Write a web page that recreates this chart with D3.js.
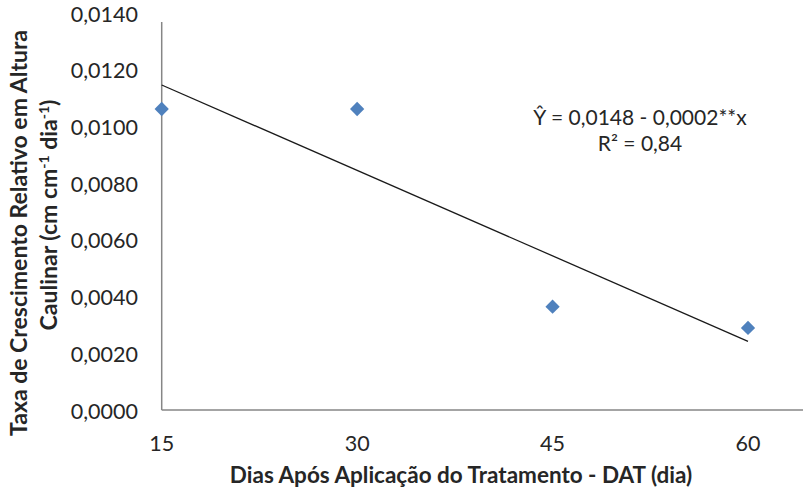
<!DOCTYPE html>
<html>
<head>
<meta charset="utf-8">
<script src="https://cdn.jsdelivr.net/npm/d3@7"></script>
<style>
  body { margin: 0; background: #fff; }
  text { font-family: Lato, "Open Sans", sans-serif; fill: #262626; }
</style>
</head>
<body>
<div id="chart"></div>
<script>
// days after treatment
var days = [15, 30, 45, 60];
// relative growth rate
var rates = [0.01065, 0.01065, 0.00368, 0.00293];
var yTicks = [0, 0.002, 0.004, 0.006, 0.008, 0.010, 0.012, 0.014];
var xTicks = [15, 30, 45, 60];
var eqLines = ["Ŷ = 0,0148 - 0,0002**x", "R² = 0,84"];

var width = 803, height = 490;

var svg = d3.select("#chart").append("svg")
  .attr("width", width)
  .attr("height", height);

var x = d3.scaleLinear().domain([15, 60]).range([161.7, 748]);
var y = d3.scaleLinear().domain([0, 0.014]).range([411, 14]);

var fmt = function(d) { return d3.format(".4f")(d).replace(".", ","); };

// axes lines
svg.append("line")
  .attr("x1", x(15)).attr("x2", 803)
  .attr("y1", 410).attr("y2", 410)
  .attr("stroke", "#868686").attr("stroke-width", 1.5);
svg.append("line")
  .attr("x1", x(15)).attr("x2", x(15))
  .attr("y1", 410).attr("y2", 22)
  .attr("stroke", "#868686").attr("stroke-width", 1.5);

// y tick labels
svg.selectAll(".ylab")
  .data(yTicks)
  .enter()
  .append("text")
  .attr("class", "ylab")
  .attr("x", 138)
  .attr("y", function(d) { return y(d); })
  .attr("dy", "0.35em")
  .attr("text-anchor", "end")
  .style("font-size", "21.5px")
  .text(fmt);

// x tick labels
svg.selectAll(".xlab")
  .data(xTicks)
  .enter()
  .append("text")
  .attr("class", "xlab")
  .attr("x", function(d) { return x(d); })
  .attr("y", 443)
  .attr("dy", "0.35em")
  .attr("text-anchor", "middle")
  .style("font-size", "21.5px")
  .text(function(d) { return d; });

// least squares trend line
var mx = d3.mean(days), my = d3.mean(rates);
var sxy = d3.sum(days, function(d, i) { return (d - mx) * (rates[i] - my); });
var sxx = d3.sum(days, function(d) { return (d - mx) * (d - mx); });
var b = sxy / sxx, a = my - b * mx;

svg.append("line")
  .attr("x1", x(15)).attr("y1", y(a + b * 15))
  .attr("x2", x(60)).attr("y2", y(a + b * 60))
  .attr("stroke", "#1a1a1a").attr("stroke-width", 1.3);

// markers
svg.selectAll(".pt")
  .data(days)
  .enter()
  .append("path")
  .attr("class", "pt")
  .attr("d", d3.symbol().type(d3.symbolDiamond2).size(130))
  .attr("transform", function(d, i) { return "translate(" + x(d) + "," + y(rates[i]) + ")"; })
  .attr("fill", "#4f81bd");

// equation
svg.selectAll(".eq")
  .data(eqLines)
  .enter()
  .append("text")
  .attr("class", "eq")
  .attr("x", 640)
  .attr("y", function(d, i) { return 118 + i * 26; })
  .attr("dy", "0.35em")
  .attr("text-anchor", "middle")
  .style("font-size", "21px")
  .text(function(d) { return d; });

// axis titles
svg.append("text")
  .attr("x", 461)
  .attr("y", 475)
  .attr("dy", "0.35em")
  .attr("text-anchor", "middle")
  .style("font-size", "22.5px")
  .style("font-weight", "bold")
  .text("Dias Após Aplicação do Tratamento - DAT (dia)");

var yt = svg.append("text")
  .attr("transform", "translate(19,233) rotate(-90)")
  .attr("text-anchor", "middle")
  .style("font-size", "23px")
  .style("font-weight", "bold");
yt.append("tspan").attr("x", 0).attr("dy", "0.35em")
  .text("Taxa de Crescimento Relativo em Altura");
var t2 = yt.append("tspan").attr("x", 18).attr("dy", "1.3em");
t2.append("tspan").text("Caulinar (cm cm");
t2.append("tspan").attr("baseline-shift", "super").style("font-size", "14px").text("-1");
t2.append("tspan").text(" dia");
t2.append("tspan").attr("baseline-shift", "super").style("font-size", "14px").text("-1");
t2.append("tspan").text(")");
</script>
</body>
</html>
